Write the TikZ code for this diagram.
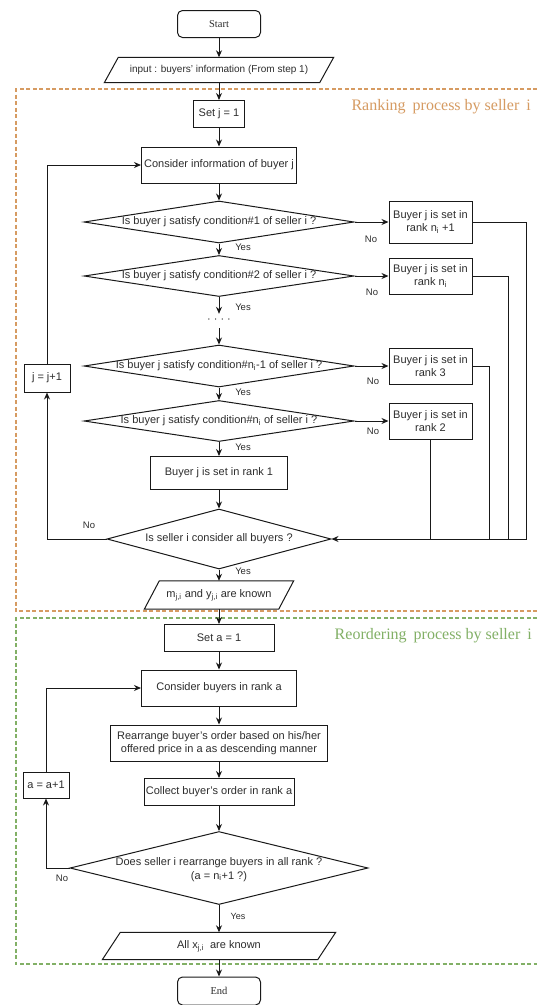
\documentclass[tikz,border=0pt]{standalone}
\usepackage{fontspec}
\setmainfont{Liberation Sans}
\newfontfamily\serifface{Liberation Serif}
\usetikzlibrary{shapes.geometric,arrows.meta,calc}
\definecolor{ln}{RGB}{25,25,25}
\definecolor{tx}{RGB}{45,45,45}
\definecolor{orng}{RGB}{214,155,98}
\definecolor{grn}{RGB}{130,176,102}
\tikzset{
  base/.style={draw=ln, line width=1pt, text=tx, font=\fontsize{11}{13.5}\selectfont, inner sep=0pt, align=center},
  box/.style={base, rectangle},
  term/.style={base, rectangle, rounded corners=5pt, font=\serifface\fontsize{10.5}{12}\selectfont},
  dia/.style={draw=ln, line width=1pt, diamond, inner sep=0pt},
  txt/.style={text=tx, font=\fontsize{11}{13.5}\selectfont, inner sep=0pt, align=center},
  lbl/.style={text=tx, font=\fontsize{9.5}{11}\selectfont, inner sep=0pt},
  arr/.style={draw=ln, line width=1pt, -{Stealth[length=7pt,width=6pt]}},
  conn/.style={draw=ln, line width=1pt},
  frame/.style={line width=1.2pt, dash pattern=on 4pt off 2.5pt},
  title/.style={font=\serifface\fontsize{16}{18}\selectfont, anchor=east, inner sep=0pt},
}
\newcommand\myparallel[7]{%
  \node[txt, minimum width=#4, minimum height=#5] (#1) at (#2,#3) {#7};
  \draw[conn] ($(#1.south west)+(-#6/2,0)$) -- ($(#1.north west)+(#6/2,0)$) -- ($(#1.north east)+(#6/2,0)$) -- ($(#1.south east)+(-#6/2,0)$) -- cycle;}
\begin{document}
\begin{tikzpicture}[x=1pt,y=-1pt]
\useasboundingbox (0,0) rectangle (537,1005);
\fill[white] (0,0) rectangle (537,1005);
% frames
\draw[frame, draw=orng] (537,89) -- (16,89) -- (16,611) -- (537,611);
\draw[frame, draw=grn] (537,618) -- (16,618) -- (16,964) -- (537,964);
\node[title, text=orng] (lab1) at (531,107) {Ranking\hspace{3pt} process by seller\hspace{3pt} i};
\node[title, text=grn] (lab2) at (532,636) {Reordering\hspace{3pt} process by seller\hspace{3pt} i};

% main column
\node[term, minimum width=83, minimum height=27] (start) at (219,24) {Start};
\myparallel{inp}{219}{70}{215}{25}{14}{\fontsize{10}{12}\selectfont input : buyers' information (From step 1)}
\node[box, minimum width=51, minimum height=27] (setj) at (219,114) {Set j = 1};
\node[box, minimum width=155, minimum height=36] (cinfo) at (219,165) {Consider information of buyer j};

\node[dia, minimum width=270, minimum height=42] (d1) at (219,222) {};
\node[txt] (t1) at (d1) {Is buyer j satisfy condition\#1 of seller i ?};
\node[dia, minimum width=270, minimum height=41] (d2) at (219,276) {};
\node[txt] (t2) at (d2) {Is buyer j satisfy condition\#2 of seller i ?};
\node[txt, minimum height=14] (dots) at (219,321) {· · · ·};
\node[dia, minimum width=270, minimum height=42] (d3) at (219,366) {};
\node[txt] (t3) at (d3) {Is buyer j satisfy condition\#n\textsubscript{i}-1 of seller i ?};
\node[dia, minimum width=270, minimum height=41] (d4) at (219,421) {};
\node[txt] (t4) at (d4) {Is buyer j satisfy condition\#n\textsubscript{i} of seller i ?};
\node[box, minimum width=137, minimum height=33] (rank1) at (219,473) {Buyer j is set in rank 1};
\node[dia, minimum width=224, minimum height=60] (d5) at (219,539) {};
\node[txt] (t5) at (d5) {Is seller i consider all buyers ?};
\myparallel{mji}{219}{595}{134}{28}{15}{m\textsubscript{j,i} and y\textsubscript{j,i} are known}

% right boxes
\node[box, minimum width=83, minimum height=42] (r1) at (430.5,222) {Buyer j is set in\\rank n\textsubscript{i} +1};
\node[box, minimum width=83, minimum height=36] (r2) at (430.5,276) {Buyer j is set in\\rank n\textsubscript{i}};
\node[box, minimum width=83, minimum height=36] (r3) at (430.5,366) {Buyer j is set in\\rank 3};
\node[box, minimum width=83, minimum height=36] (r4) at (430.5,421) {Buyer j is set in\\rank 2};
\node[box, minimum width=46, minimum height=28] (jj) at (47,378) {j = j+1};

% reordering
\node[box, minimum width=110, minimum height=27] (seta) at (219,638) {Set a = 1};
\node[box, minimum width=155, minimum height=36] (cba) at (219,688) {Consider buyers in rank a};
\node[box, minimum width=217, minimum height=36] (rearr) at (219,743) {Rearrange buyer's order based on his/her\\offered price in a as descending manner};
\node[box, minimum width=150, minimum height=27] (coll) at (219,792) {Collect buyer's order in rank a};
\node[box, minimum width=46, minimum height=26] (aa) at (46,785) {a = a+1};
\node[dia, minimum width=298, minimum height=73] (d6) at (219,868) {};
\node[txt] (t6) at ($(d6)+(0,1.5)$) {Does seller i rearrange buyers in all rank ?\\(a = n\textsubscript{i}+1 ?)};
\myparallel{allx}{219}{946}{215}{27}{18}{All x\textsubscript{j,i}\ \ are known}
\node[term, minimum width=83, minimum height=28] (end) at (219,991) {End};

% labels
\node[lbl] (y1) at (243,247) {Yes};
\node[lbl] (y2) at (243,307) {Yes};
\node[lbl] (y3) at (243,392) {Yes};
\node[lbl] (y4) at (243,447) {Yes};
\node[lbl] (y5) at (243,571) {Yes};
\node[lbl, font=\fontsize{9}{11}\selectfont] (y6) at (238,916) {Yes};
\node[lbl] (n1) at (371,239) {No};
\node[lbl] (n2) at (372,292) {No};
\node[lbl] (n3) at (373,381) {No};
\node[lbl] (n4) at (373,431) {No};
\node[lbl] (n5) at (89,525) {No};
\node[lbl] (n6) at (62,878) {No};

% connectors main
\draw[arr] (start.south) -- (inp.north);
\draw[arr] (inp.south) -- (setj.north);
\draw[arr] (setj.south) -- (cinfo.north);
\draw[arr] (cinfo.south) -- (d1.north);
\draw[arr] (d1.south) -- (d2.north);
\draw[arr] (d2.south) -- (dots.north);
\draw[arr] (dots.south) -- (d3.north);
\draw[arr] (d3.south) -- (d4.north);
\draw[arr] (d4.south) -- (rank1.north);
\draw[arr] (rank1.south) -- (d5.north);
\draw[arr] (d5.south) -- (mji.north);
\draw[arr] (mji.south) -- (seta.north);
\draw[arr] (seta.south) -- (cba.north);
\draw[arr] (cba.south) -- (rearr.north);
\draw[arr] (rearr.south) -- (coll.north);
\draw[arr] (coll.south) -- (d6.north);
\draw[arr] (d6.south) -- (allx.north);
\draw[arr] (allx.south) -- (end.north);

% right branches
\draw[arr] (d1.east) -- (r1.west);
\draw[arr] (d2.east) -- (r2.west);
\draw[arr] (d3.east) -- (r3.west);
\draw[arr] (d4.east) -- (r4.west);
\coordinate (m1) at (526,539);
\coordinate (m2) at (508,539);
\coordinate (m3) at (489,539);
\draw[arr] (r1.east) -| (m1) -- (d5.east);
\draw[conn] (r2.east) -| (m2);
\draw[conn] (r3.east) -| (m3);
\draw[conn] (r4.south) -- (r4.south |- d5.east);

% loops
\coordinate (l1) at (47,539);
\draw[arr] (d5.west) -- (l1) -- (jj.south);
\draw[arr] (jj.north) |- (cinfo.west);
\draw[arr] (d6.west) -| (aa.south);
\draw[arr] (aa.north) |- (cba.west);
\end{tikzpicture}
\end{document}
